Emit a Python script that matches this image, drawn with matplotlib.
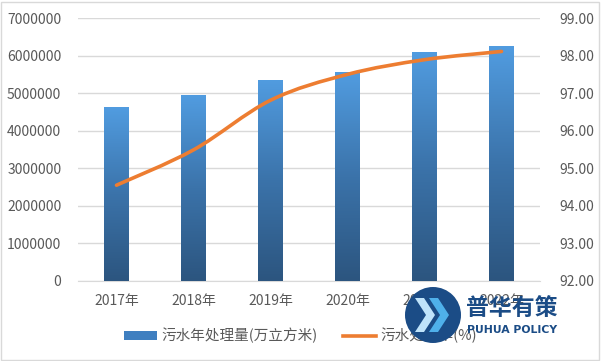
import numpy as np
import matplotlib
matplotlib.use("Agg")
import matplotlib.pyplot as plt
from matplotlib.path import Path
from matplotlib.patches import PathPatch, Patch, Rectangle, Ellipse, Polygon
from matplotlib.lines import Line2D
from matplotlib.colors import LinearSegmentedColormap

plt.rcParams['font.family'] = ['Noto Sans CJK SC', 'DejaVu Sans']

years = ["2017年", "2018年", "2019年", "2020年", "2021年", "2022年"]
volume = [4630000, 4950000, 5350000, 5560000, 6090000, 6250000]
rate = [94.55, 95.49, 96.81, 97.50, 97.89, 98.11]
bar_label = "污水年处理量(万立方米)"
line_label = "污水处理率(%)"

grey = "#595959"
orange = "#ED7D31"
grad = LinearSegmentedColormap.from_list("g", ["#2c557f", "#3b73aa", "#519ce0"])

fig = plt.figure(figsize=(6.01, 3.61), dpi=100)
ax = fig.add_axes([78 / 601, 1 - 281 / 361, 462 / 601, 263 / 361])
x = np.arange(len(years))
w = 0.32

bars = ax.bar(x, volume, width=w, color="#3f7fc0", zorder=2)
g = np.linspace(0, 1, 256).reshape(-1, 1)
for b in bars:
    im = ax.imshow(g, extent=[b.get_x(), b.get_x() + b.get_width(), 0, b.get_height()],
                   origin="lower", aspect="auto", cmap=grad, zorder=3)
    im.set_clip_path(b)
ax.set_xlim(-0.5, len(years) - 0.5)
ax.set_ylim(0, 7000000)
ax.set_yticks(range(0, 7000001, 1000000))
ax.set_yticklabels([str(v) for v in range(0, 7000001, 1000000)])
ax.set_xticks(x)
ax.set_xticklabels(years)
ax.grid(axis="y", color="#d9d9d9", linewidth=1, zorder=0)
ax.set_axisbelow(True)
for s in ax.spines.values():
    s.set_visible(False)
ax.spines["bottom"].set_visible(True)
ax.spines["bottom"].set_color("#d9d9d9")
ax.tick_params(length=0, labelsize=10, labelcolor=grey)
ax.tick_params(axis="x", pad=9)
ax.tick_params(axis="y", pad=12)

ax2 = ax.twinx()
ax2.set_ylim(92, 99)
ax2.set_yticks(range(92, 100))
ax2.set_yticklabels([f"{v:.2f}" for v in range(92, 100)])
ax2.tick_params(length=0, labelsize=10, labelcolor=grey, pad=14)
for s in ax2.spines.values():
    s.set_visible(False)

# smoothed line (bezier through the data points)
pts = np.column_stack([x, rate]).astype(float)
ext = np.vstack([pts[0], pts, pts[-1]])
verts = [tuple(pts[0])]
codes = [Path.MOVETO]
for i in range(len(pts) - 1):
    p0, p1, p2, p3 = ext[i], ext[i + 1], ext[i + 2], ext[i + 3]
    c1 = p1 + (p2 - p0) / 6
    c2 = p2 - (p3 - p1) / 6
    verts += [tuple(c1), tuple(c2), tuple(p2)]
    codes += [Path.CURVE4] * 3
ax2.add_patch(PathPatch(Path(verts, codes), facecolor="none", edgecolor=orange,
                        linewidth=2.6, capstyle="round", joinstyle="round"))

handles = [Patch(facecolor="#3f7fc0", edgecolor="none"),
           Line2D([], [], color=orange, linewidth=2.6)]
fig.legend(handles, [bar_label, line_label], loc="center", bbox_to_anchor=(0.5, 0.07),
           ncol=2, frameon=False, fontsize=10.5, labelcolor=grey, handlelength=2.3,
           handleheight=0.6, columnspacing=1.7, handletextpad=0.3)

# border
fig.patches.append(Rectangle((1 / 601, 1 / 361), 598 / 601, 358 / 361, transform=fig.transFigure,
                             facecolor="none", edgecolor="#d9d9d9", linewidth=1))

# watermark logo
def px(xp, yp):
    return (xp / 601, 1 - yp / 361)

fig.patches.append(Ellipse(px(433, 315), 56 / 601, 56 / 361, transform=fig.transFigure,
                           facecolor="#1b4c86", edgecolor="none", zorder=10))
for dx, col in [(0, "#bfe3fa"), (14, "#4fb0ea")]:
    cx = 415 + dx
    poly = [px(cx, 298), px(cx + 9, 298), px(cx + 20, 315), px(cx + 9, 332), px(cx, 332), px(cx + 11, 315)]
    fig.patches.append(Polygon(poly, closed=True, transform=fig.transFigure,
                               facecolor=col, edgecolor="none", zorder=11))
fig.text(*px(512, 308), "普华有策", ha="center", va="center", fontsize=16.5, fontweight="bold",
         color="#1b4c86", zorder=12)
fig.text(*px(512, 330), "PUHUA POLICY", ha="center", va="center", fontsize=7.8, fontweight="bold",
         color="#1b4c86", family="DejaVu Sans", zorder=12)

fig.savefig("out.png", dpi=100)
